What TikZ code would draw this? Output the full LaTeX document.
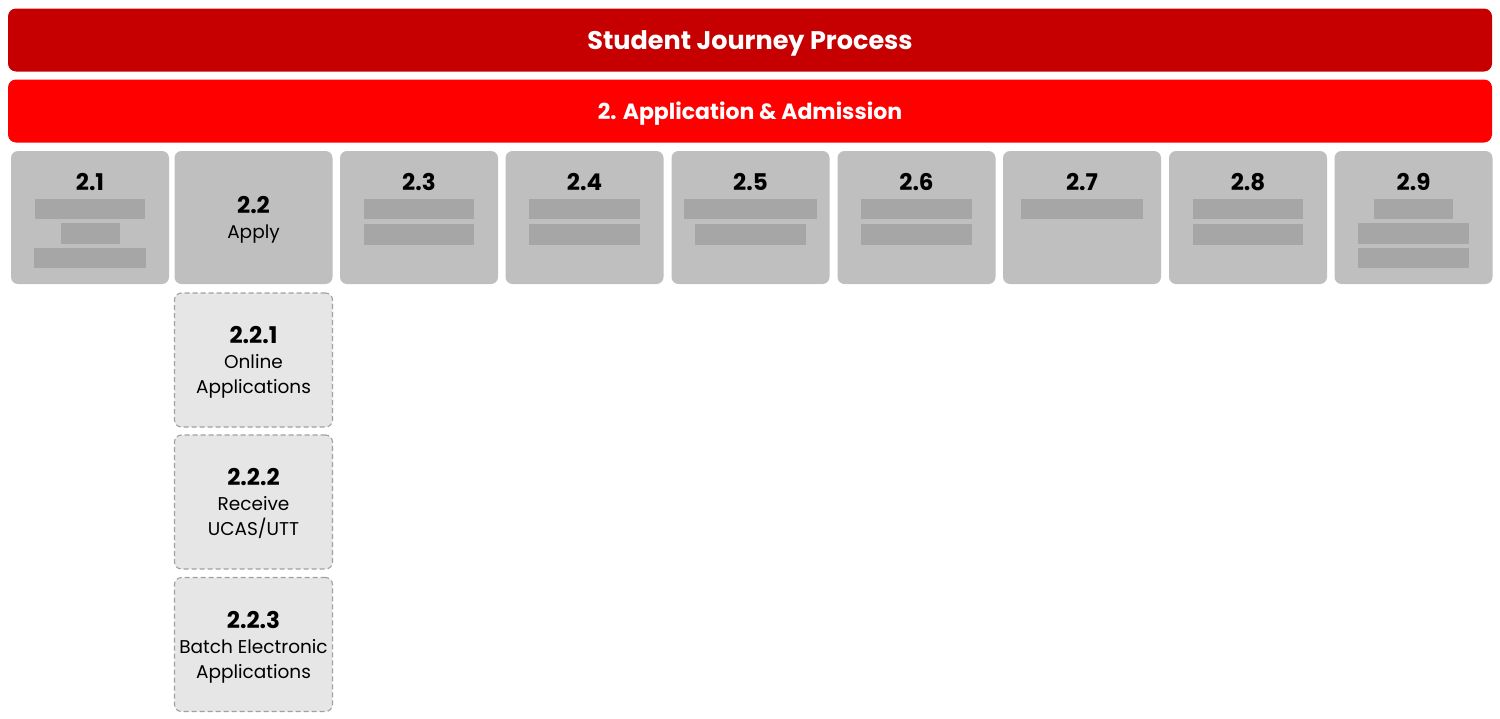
\documentclass[tikz,border=0pt]{standalone}
\usepackage{fontspec}
\setmainfont{Poppins}
\usepackage{tikz}

\definecolor{darkred}{HTML}{C60000}
\definecolor{brightred}{HTML}{FF0000}
\definecolor{boxgray}{HTML}{BFBFBF}
\definecolor{bargray}{HTML}{A6A6A6}
\definecolor{subgray}{HTML}{E6E6E6}
\definecolor{dashgray}{HTML}{A0A0A0}

\begin{document}
\begin{tikzpicture}[x=1pt,y=-1pt,
    banner/.style={rounded corners=8pt, minimum width=1484pt, minimum height=63pt, text depth=0pt, text=white, font=\bfseries\fontsize{25.5}{30}\selectfont},
    topbox/.style={fill=boxgray, rounded corners=7pt, minimum width=158pt, minimum height=133pt, inner sep=0pt},
    subbox/.style={fill=subgray, draw=dashgray, line width=1.1pt, dash pattern=on 5pt off 3pt, rounded corners=7pt, minimum width=158pt, minimum height=134pt, inner sep=0pt, text depth=0pt, align=center, font=\fontsize{18.5}{25}\selectfont},
    numtext/.style={anchor=base, font=\bfseries\fontsize{23}{25}\selectfont},
    redact/.style={fill=bargray}]
  \useasboundingbox (0,0) rectangle (1500,718);

  \node[banner, fill=darkred] (title) at (750,40) {Student Journey Process};
  \node[banner, fill=brightred, font=\bfseries\fontsize{22}{26}\selectfont] (stage) at (750,111) {2. Application \& Admission};

  \foreach \i/\x in {1/90, 3/419, 4/584.5, 5/750.5, 6/916.5, 7/1082, 8/1248, 9/1413.5} {
    \node[topbox] (s2\i) at (\x,217.5) {};
    \node[numtext] (n2\i) at (\x,190) {2.\i};
  }
  \node[topbox, text depth=0pt, align=center, font=\fontsize{18.5}{25}\selectfont] (s22) at (253.5,217.5) {{\bfseries\fontsize{23}{25}\selectfont 2.2}\\Apply};

  % hidden text
  \fill[redact] (35,199) rectangle (145,219);
  \fill[redact] (61,223) rectangle (120,244);
  \fill[redact] (34,248) rectangle (146,268);
  \fill[redact] (364,199) rectangle (474,219);
  \fill[redact] (364,224) rectangle (474,245);
  \fill[redact] (529,199) rectangle (640,219);
  \fill[redact] (529,224) rectangle (640,245);
  \fill[redact] (684,199) rectangle (817,219);
  \fill[redact] (695,224) rectangle (806,245);
  \fill[redact] (861,199) rectangle (972,219);
  \fill[redact] (861,224) rectangle (972,245);
  \fill[redact] (1021,199) rectangle (1143,219);
  \fill[redact] (1193,199) rectangle (1303,219);
  \fill[redact] (1193,224) rectangle (1303,245);
  \fill[redact] (1374,199) rectangle (1453,219);
  \fill[redact] (1358,223) rectangle (1469,244);
  \fill[redact] (1358,248) rectangle (1469,268);

  \node[subbox] (s221) at (253.5,360) {{\bfseries\fontsize{23}{25}\selectfont 2.2.1}\\Online\\Applications};
  \node[subbox] (s222) at (253.5,502) {{\bfseries\fontsize{23}{25}\selectfont 2.2.2}\\Receive\\UCAS/UTT};
  \node[subbox] (s223) at (253.5,644.5) {{\bfseries\fontsize{23}{25}\selectfont 2.2.3}\\Batch Electronic\\Applications};

\end{tikzpicture}
\end{document}
